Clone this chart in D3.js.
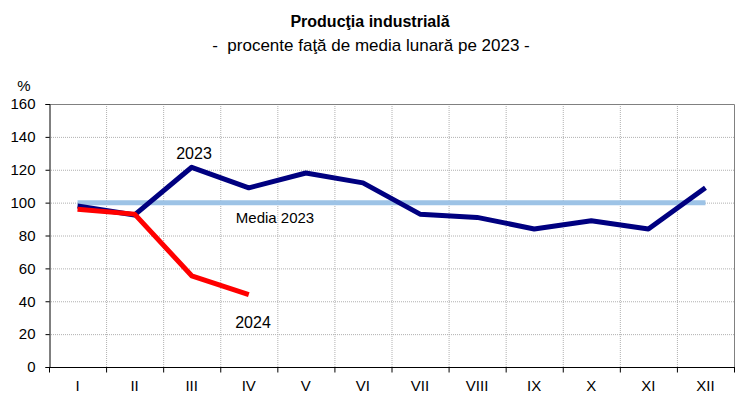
<!DOCTYPE html>
<html>
<head>
<meta charset="utf-8">
<script src="https://cdn.jsdelivr.net/npm/d3@7"></script>
<style>
  body { margin: 0; background: #fff; }
  text { font-family: "Liberation Sans", Arial, sans-serif; fill: #000; }
</style>
</head>
<body>
<div id="chart"></div>
<script>
// luni si valori (procente fata de media lunara 2023)
const luni = ["I", "II", "III", "IV", "V", "VI", "VII", "VIII", "IX", "X", "XI", "XII"];
const valori2023 = [98, 92.5, 121.5, 109, 118, 112, 93, 91, 84, 89, 84, 109];
const valori2024 = [96, 93, 55.5, 44];
const media2023 = 100;
const ticksY = [0, 20, 40, 60, 80, 100, 120, 140, 160];

const largura = 754, altura = 415;
const margem = {top: 104, right: 20, bottom: 48, left: 49};

const svg = d3.select("#chart").append("svg")
    .attr("width", largura)
    .attr("height", altura);

const x = d3.scaleBand()
    .domain(luni)
    .range([margem.left, largura - margem.right]);

const y = d3.scaleLinear()
    .domain([0, 160])
    .range([altura - margem.bottom, margem.top]);

const cx = d => x(d) + x.bandwidth() / 2;

// grila
const grila = svg.append("g")
    .attr("stroke", "#b0b0b0")
    .attr("stroke-width", 1)
    .attr("stroke-dasharray", "1,1");

grila.selectAll("line.h")
  .data(ticksY.filter(d => d > 0))
  .join("line")
    .attr("x1", margem.left)
    .attr("x2", largura - margem.right)
    .attr("y1", d => y(d) + 0.5)
    .attr("y2", d => y(d) + 0.5);

grila.selectAll("line.v")
  .data(luni.slice(1))
  .join("line")
    .attr("x1", d => x(d) + 0.5)
    .attr("x2", d => x(d) + 0.5)
    .attr("y1", margem.top)
    .attr("y2", y(0));

// chenar dreapta / sus
svg.append("path")
    .attr("fill", "none")
    .attr("stroke", "#808080")
    .attr("d", `M${margem.left},${margem.top + 0.5}H${largura - margem.right + 0.5}V${y(0)}`);

// axa Y
const axaY = svg.append("g")
    .attr("transform", `translate(${margem.left + 0.5},0)`)
    .call(d3.axisLeft(y).tickValues(ticksY).tickSize(4).tickPadding(10));
axaY.select(".domain").attr("stroke", "#000");
axaY.selectAll("text").attr("font-size", 15).style("font-family", "Liberation Sans, Arial, sans-serif");

// axa X cu taieturi intre luni
const axaX = svg.append("g")
    .attr("transform", `translate(0,${y(0) + 0.5})`);
axaX.append("line")
    .attr("x1", margem.left)
    .attr("x2", largura - margem.right + 1)
    .attr("stroke", "#000");
axaX.selectAll("line.tick")
  .data(luni.concat(["_"]))
  .join("line")
    .attr("x1", (d, i) => margem.left + i * x.bandwidth() + 0.5)
    .attr("x2", (d, i) => margem.left + i * x.bandwidth() + 0.5)
    .attr("y1", 0)
    .attr("y2", 5)
    .attr("stroke", "#000");
axaX.selectAll("text")
  .data(luni)
  .join("text")
    .attr("x", d => cx(d))
    .attr("y", 23)
    .attr("text-anchor", "middle")
    .attr("font-size", 15)
    .text(d => d);

// media 2023
svg.append("line")
    .attr("x1", cx(luni[0]))
    .attr("x2", cx(luni[luni.length - 1]))
    .attr("y1", y(media2023))
    .attr("y2", y(media2023))
    .attr("stroke", "#9dc3e6")
    .attr("stroke-width", 5);

const linie = d3.line()
    .x((d, i) => cx(luni[i]))
    .y(d => y(d));

svg.append("path")
    .datum(valori2023)
    .attr("fill", "none")
    .attr("stroke", "#000080")
    .attr("stroke-width", 5)
    .attr("stroke-linejoin", "round")
    .attr("d", linie);

svg.append("path")
    .datum(valori2024)
    .attr("fill", "none")
    .attr("stroke", "#ff0000")
    .attr("stroke-width", 5)
    .attr("stroke-linejoin", "round")
    .attr("d", linie);

// etichete
svg.append("text").attr("x", 194).attr("y", 159).attr("text-anchor", "middle")
    .attr("font-size", 16).text("2023");
svg.append("text").attr("x", 275).attr("y", 223).attr("text-anchor", "middle")
    .attr("font-size", 15).text("Media 2023");
svg.append("text").attr("x", 253).attr("y", 328).attr("text-anchor", "middle")
    .attr("font-size", 16).text("2024");
svg.append("text").attr("x", 24).attr("y", 91).attr("text-anchor", "middle")
    .attr("font-size", 15).text("%");

// titlu
svg.append("text").attr("x", 370).attr("y", 27).attr("text-anchor", "middle")
    .attr("font-size", 16).attr("font-weight", "bold").text("Producţia industrială");
svg.append("text").attr("x", 371).attr("y", 51).attr("text-anchor", "middle")
    .attr("font-size", 17).text("-\u00a0\u00a0procente faţă de media lunară pe 2023 -");
</script>
</body>
</html>
